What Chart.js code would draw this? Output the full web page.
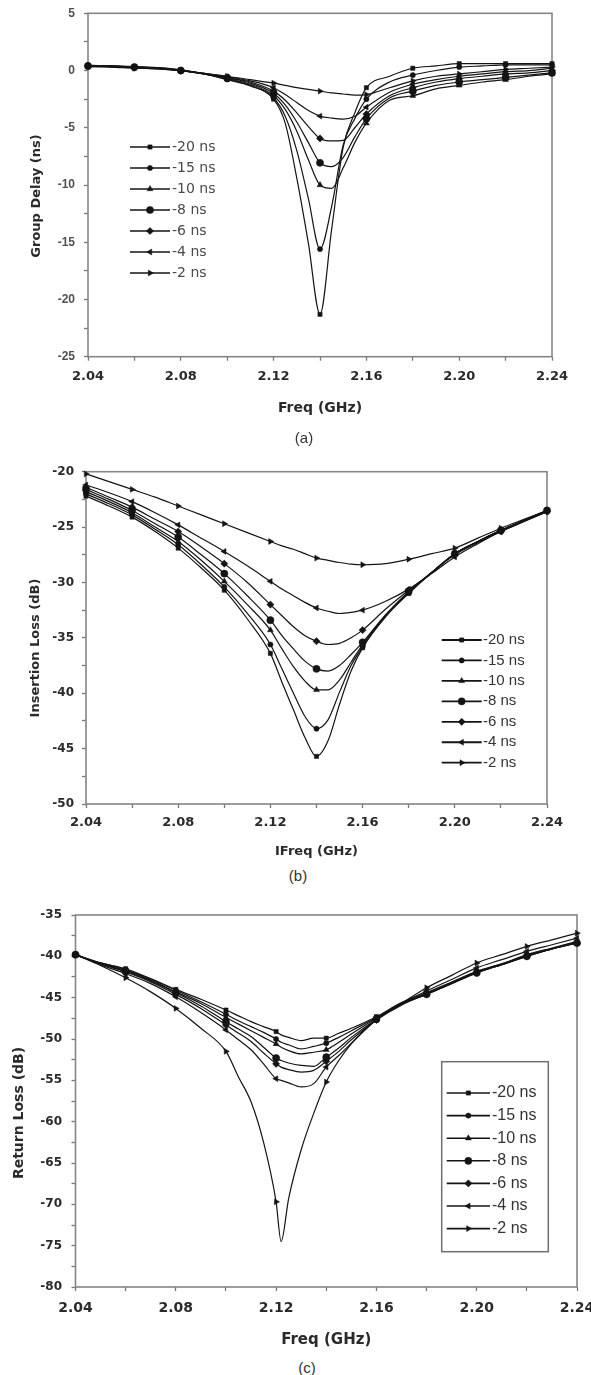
<!DOCTYPE html>
<html lang="en">
<head>
<meta charset="UTF-8">
<title>Group delay / insertion loss / return loss</title>
<script src="https://cdn.jsdelivr.net/npm/chart.js@4.4.0/dist/chart.umd.min.js"></script>
<style>
  body { margin: 0; background: #fff; }
  #page { position: relative; width: 591px; height: 1375px; overflow: hidden; background: #fff; }
  .panel { position: absolute; left: 0; }
  .tag { position: absolute; font-family: "Liberation Sans", Arial, sans-serif; font-size: 15px; color: #333;
         transform: translate(-50%, -50%); }
</style>
</head>
<body>
<div id="page">
  <canvas class="panel" id="chartA" width="591" height="420" style="top:0"></canvas>
  <canvas class="panel" id="chartB" width="591" height="425" style="top:440px"></canvas>
  <canvas class="panel" id="chartC" width="591" height="465" style="top:890px"></canvas>
  <div class="tag" style="left:304px;top:437px">(a)</div>
  <div class="tag" style="left:298px;top:875px">(b)</div>
  <div class="tag" style="left:307px;top:1367px">(c)</div>
</div>

<script>
// ---- data ----
const seriesLabels = ['-20 ns', '-15 ns', '-10 ns', '-8 ns', '-6 ns', '-4 ns', '-2 ns'];

// frequency grid (GHz) for panels (a) and (b)
const freqFine = [2.04, 2.05, 2.06, 2.07, 2.08, 2.09, 2.10, 2.11, 2.12, 2.125, 2.13, 2.135, 2.14,
                  2.145, 2.15, 2.155, 2.16, 2.17, 2.18, 2.19, 2.20, 2.21, 2.22, 2.23, 2.24];

// (a) group delay, ns
const delay20 = [0.45, 0.4, 0.35, 0.25, 0.05, -0.3, -0.8, -1.35, -2.5, -4.6, -9.4, -15.1, -21.3, -13.9, -6.7, -3.7, -1.5, -0.5, 0.2, 0.4, 0.6, 0.6, 0.6, 0.6, 0.6];
const delay15 = [0.45, 0.4, 0.3, 0.25, 0.05, -0.3, -0.75, -1.3, -2.4, -4.0, -7.0, -11.2, -15.6, -11.9, -6.5, -4.2, -2.5, -1.0, -0.4, 0.0, 0.3, 0.4, 0.5, 0.5, 0.5];
const delay10 = [0.4, 0.4, 0.3, 0.2, 0.0, -0.3, -0.7, -1.2, -2.2, -3.4, -5.3, -7.8, -10.0, -10.3, -8.5, -6.3, -4.6, -2.6, -2.2, -1.6, -1.3, -1.0, -0.8, -0.5, -0.3];
const delay8  = [0.4, 0.35, 0.3, 0.2, 0.0, -0.3, -0.65, -1.1, -2.0, -3.0, -4.5, -6.3, -8.06, -8.4, -7.6, -5.8, -4.2, -2.4, -1.8, -1.3, -1.0, -0.8, -0.6, -0.4, -0.2];
const delay6  = [0.4, 0.35, 0.25, 0.2, 0.0, -0.25, -0.6, -1.0, -1.8, -2.6, -3.7, -4.9, -5.93, -6.15, -6.1, -5.0, -3.8, -2.2, -1.5, -1.0, -0.7, -0.5, -0.3, -0.2, 0.0];
const delay4  = [0.35, 0.35, 0.25, 0.15, 0.0, -0.25, -0.55, -0.9, -1.5, -2.1, -2.8, -3.5, -3.98, -4.15, -4.24, -4.0, -3.2, -1.9, -1.2, -0.8, -0.5, -0.3, -0.1, 0.0, 0.2];
const delay2  = [0.35, 0.3, 0.2, 0.15, 0.0, -0.25, -0.5, -0.8, -1.1, -1.3, -1.5, -1.65, -1.8, -1.95, -2.05, -2.15, -2.1, -1.5, -0.9, -0.5, -0.3, -0.1, 0.1, 0.2, 0.3];

// (b) insertion loss, dB
const loss20 = [-22.2, -23.1, -24.1, -25.4, -26.9, -28.7, -30.7, -33.3, -36.4, -39.0, -41.5, -44.0, -45.7, -44.3, -41.0, -38.0, -35.9, -33.1, -31.0, -29.1, -27.4, -26.3, -25.3, -24.4, -23.5];
const loss15 = [-22.0, -22.9, -23.9, -25.2, -26.6, -28.4, -30.4, -32.8, -35.6, -37.8, -40.0, -42.1, -43.2, -42.4, -39.9, -37.5, -35.8, -33.0, -30.9, -29.1, -27.4, -26.3, -25.3, -24.4, -23.5];
const loss10 = [-21.8, -22.7, -23.7, -25.0, -26.3, -28.0, -29.9, -32.0, -34.3, -36.0, -37.6, -38.9, -39.7, -39.7, -38.8, -37.2, -35.6, -33.0, -30.9, -29.1, -27.4, -26.3, -25.3, -24.4, -23.5];
const loss8  = [-21.6, -22.5, -23.5, -24.7, -25.9, -27.5, -29.2, -31.2, -33.4, -34.8, -36.0, -37.1, -37.8, -38.0, -37.5, -36.5, -35.4, -32.9, -30.8, -29.1, -27.4, -26.3, -25.3, -24.4, -23.5];
const loss6  = [-21.4, -22.3, -23.2, -24.3, -25.4, -26.8, -28.3, -30.0, -32.0, -33.0, -34.0, -34.8, -35.3, -35.6, -35.5, -35.0, -34.3, -32.4, -30.7, -29.1, -27.5, -26.4, -25.4, -24.5, -23.6];
const loss4  = [-21.2, -21.9, -22.7, -23.7, -24.8, -26.0, -27.2, -28.5, -29.9, -30.6, -31.2, -31.8, -32.3, -32.6, -32.8, -32.7, -32.5, -31.7, -30.6, -29.2, -27.7, -26.5, -25.4, -24.5, -23.6];
const loss2  = [-20.2, -20.9, -21.6, -22.3, -23.1, -23.9, -24.7, -25.5, -26.3, -26.7, -27.0, -27.4, -27.8, -28.0, -28.2, -28.35, -28.4, -28.3, -27.9, -27.4, -26.9, -26.0, -25.1, -24.3, -23.5];

// (c) return loss, dB
const freqC = [2.04, 2.05, 2.06, 2.07, 2.08, 2.09, 2.10, 2.105, 2.11, 2.115, 2.12, 2.122, 2.125, 2.13,
               2.135, 2.14, 2.145, 2.15, 2.16, 2.17, 2.18, 2.19, 2.20, 2.21, 2.22, 2.23, 2.24];
const ret20 = [-39.8, -40.8, -41.5, -42.7, -44.0, -45.2, -46.5, -47.2, -47.9, -48.5, -49.1, -49.5, -49.8, -50.2, -49.9, -49.9, -49.3, -48.7, -47.3, -45.6, -44.4, -43.1, -41.8, -40.9, -39.8, -39.0, -38.2];
const ret15 = [-39.8, -40.8, -41.6, -42.8, -44.1, -45.5, -47.0, -47.8, -48.5, -49.2, -50.0, -50.4, -50.7, -51.2, -50.9, -50.5, -49.8, -49.0, -47.4, -45.7, -44.5, -43.2, -41.9, -40.9, -39.9, -39.1, -38.3];
const ret10 = [-39.8, -40.9, -41.7, -42.9, -44.3, -45.7, -47.4, -48.2, -49.0, -49.8, -50.6, -51.0, -51.4, -51.8, -51.6, -51.3, -50.4, -49.4, -47.5, -45.8, -44.5, -43.2, -41.9, -41.0, -39.9, -39.1, -38.3];
const ret8  = [-39.8, -40.9, -41.8, -43.0, -44.4, -46.0, -47.9, -48.8, -49.7, -51.0, -52.3, -52.6, -52.9, -53.2, -53.3, -52.2, -51.1, -49.8, -47.6, -45.8, -44.6, -43.3, -42.0, -41.0, -40.0, -39.1, -38.4];
const ret6  = [-39.8, -40.9, -41.9, -43.1, -44.6, -46.3, -48.3, -49.3, -50.3, -51.7, -53.0, -53.4, -53.7, -54.0, -53.8, -52.7, -51.5, -50.1, -47.7, -45.9, -44.6, -43.3, -42.0, -41.0, -40.0, -39.1, -38.4];
const ret4  = [-39.8, -41.0, -42.1, -43.3, -44.9, -46.8, -48.9, -50.1, -51.3, -53.0, -54.8, -55.0, -55.3, -55.8, -55.4, -53.4, -52.0, -50.5, -47.7, -45.7, -44.2, -42.8, -41.4, -40.4, -39.4, -38.6, -37.8];
const ret2  = [-39.8, -41.1, -42.6, -44.3, -46.3, -48.7, -51.5, -54.6, -57.6, -62.5, -69.7, -74.5, -69.3, -63.4, -59.0, -55.2, -52.6, -50.6, -47.6, -45.7, -43.8, -42.3, -40.8, -39.8, -38.8, -38.0, -37.2];

// ---- styling ----
const markerStyles = ['rect', 'circle', 'triangle', 'circle', 'rectRot', 'triangle', 'triangle'];
const markerTurn   = [0, 0, 0, 0, 0, -90, 90];
const markerSize   = [3, 2.6, 3.4, 3.6, 3.6, 3.4, 3.4];

function onGrid(f) {
  return Math.round(f * 1000) % 20 === 0;
}

function makeSets(freq, series) {
  return series.map(function (vals, i) {
    return {
      label: seriesLabels[i],
      data: vals.map(function (v, k) { return {x: freq[k], y: v}; }),
      borderColor: '#141414',
      backgroundColor: '#141414',
      borderWidth: 1.2,
      pointStyle: markerStyles[i],
      pointRotation: markerTurn[i],
      pointRadius: function (ctx) { return onGrid(freq[ctx.dataIndex]) ? markerSize[i] : 0; },
      pointBorderWidth: 0.5,
      cubicInterpolationMode: 'monotone',
      clip: false
    };
  });
}

// box round the plot area + the rotated y title
const frame = {
  id: 'frame',
  beforeDatasetsDraw(chart, args, o) {
    const a = chart.chartArea;
    const ctx = chart.ctx;
    ctx.save();
    ctx.strokeStyle = '#858585';
    ctx.lineWidth = 1.6;
    ctx.strokeRect(a.left, a.top, a.right - a.left, a.bottom - a.top);
    ctx.translate(o.titleX, o.titleY);
    ctx.rotate(-Math.PI / 2);
    ctx.fillStyle = '#2a2a2a';
    ctx.font = o.titleFont;
    ctx.textAlign = 'center';
    ctx.textBaseline = 'middle';
    ctx.fillText(o.title, 0, 0);
    ctx.restore();
  }
};

// legend drawn inside the plot
const inlineLegend = {
  id: 'inlineLegend',
  afterDraw(chart, args, o) {
    const ctx = chart.ctx;
    ctx.save();
    if (o.box) {
      ctx.strokeStyle = '#707070';
      ctx.lineWidth = 1.5;
      ctx.strokeRect(o.box[0], o.box[1], o.box[2], o.box[3]);
    }
    chart.data.datasets.forEach(function (ds, i) {
      const y = o.top + i * o.gap;
      ctx.strokeStyle = '#141414';
      ctx.fillStyle = '#141414';
      ctx.lineWidth = o.lineWidth;
      ctx.beginPath();
      ctx.moveTo(o.x1, y);
      ctx.lineTo(o.x2, y);
      ctx.stroke();
      ctx.lineWidth = 0.5;
      Chart.helpers.drawPoint(ctx, {
        pointStyle: ds.pointStyle, rotation: ds.pointRotation, radius: markerSize[i], borderWidth: 0.5
      }, (o.x1 + o.x2) / 2, y);
      ctx.fillStyle = o.color;
      ctx.font = o.font;
      ctx.textAlign = 'left';
      ctx.textBaseline = 'middle';
      ctx.fillText(ds.label, o.textX, y);
    });
    ctx.restore();
  }
};

function xAxis(o) {
  return {
    type: 'linear', min: 2.04, max: 2.24,
    border: {display: false},
    grid: {drawOnChartArea: false, drawTicks: true, tickLength: 4, tickColor: '#777', tickWidth: 1.3},
    ticks: {
      stepSize: 0.02, maxTicksLimit: 100, autoSkip: false, maxRotation: 0,
      padding: o.tickPad, color: '#2a2a2a',
      font: {family: 'DejaVu Sans', weight: 'bold', size: o.tickSize},
      callback: function (v, i) { return i % 2 === 0 ? v.toFixed(2) : ''; }
    },
    title: {
      display: true, text: o.title, color: '#2a2a2a',
      font: {family: 'DejaVu Sans', weight: 'bold', size: o.titleSize},
      padding: {top: 0, bottom: o.titlePad}
    },
    afterFit: function (s) { s.height = o.height; s.paddingLeft = 0; s.paddingRight = 0; }
  };
}

function yAxis(o) {
  return {
    type: 'linear', min: o.min, max: o.max,
    border: {display: false},
    grid: {drawOnChartArea: false, drawTicks: true, tickLength: 4, tickColor: '#777', tickWidth: 1.3},
    ticks: {
      stepSize: 2.5, maxTicksLimit: 100, autoSkip: false,
      padding: o.tickPad, color: o.tickColor,
      font: {family: o.tickFamily, weight: 'bold', size: o.tickSize},
      callback: function (v) { return Math.abs(v % 5) < 1e-6 ? String(v) : ''; }
    },
    afterFit: function (s) { s.width = o.width; s.paddingTop = 0; s.paddingBottom = 0; }
  };
}

function drawPanel(id, freq, series, opts) {
  new Chart(document.getElementById(id), {
    type: 'line',
    data: {datasets: makeSets(freq, series)},
    options: {
      responsive: false,
      animation: false,
      events: [],
      layout: {padding: opts.padding},
      plugins: {legend: {display: false}, tooltip: {enabled: false}, inlineLegend: opts.legend, frame: opts.yTitle},
      scales: {x: opts.x, y: opts.y}
    },
    plugins: [frame, inlineLegend]
  });
}

// (a) group delay
drawPanel('chartA', freqFine, [delay20, delay15, delay10, delay8, delay6, delay4, delay2], {
  padding: {top: 13.3, right: 39, bottom: 0, left: 0},
  x: xAxis({height: 63.3, tickPad: 8, tickSize: 13, title: 'Freq (GHz)', titleSize: 14, titlePad: 3.6}),
  y: yAxis({min: -25, max: 5, width: 88, tickPad: 9, tickSize: 12, tickFamily: 'Liberation Sans', tickColor: '#505050'}),
  yTitle: {title: 'Group Delay (ns)', titleX: 37, titleY: 196, titleFont: 'bold 13px "DejaVu Sans"'},
  legend: {x1: 130, x2: 170, textX: 172, top: 147, gap: 21, lineWidth: 1.6,
           font: '14px "DejaVu Sans"', color: '#4a4a4a'}
});

// (b) insertion loss
drawPanel('chartB', freqFine, [loss20, loss15, loss10, loss8, loss6, loss4, loss2], {
  padding: {top: 31.7, right: 44, bottom: 0, left: 0},
  x: xAxis({height: 61, tickPad: 7.2, tickSize: 13, title: 'IFreq (GHz)', titleSize: 13, titlePad: 5.2}),
  y: yAxis({min: -50, max: -20, width: 86, tickPad: 8, tickSize: 12, tickFamily: 'DejaVu Sans', tickColor: '#2a2a2a'}),
  yTitle: {title: 'Insertion Loss (dB)', titleX: 36, titleY: 208, titleFont: 'bold 13px "DejaVu Sans"'},
  legend: {x1: 441.7, x2: 481.7, textX: 483, top: 200, gap: 20.45, lineWidth: 1.8,
           font: '15px "Liberation Sans"', color: '#333'}
});

// (c) return loss
drawPanel('chartC', freqC, [ret20, ret15, ret10, ret8, ret6, ret4, ret2], {
  padding: {top: 25, right: 14, bottom: 0, left: 0},
  x: xAxis({height: 68, tickPad: 8.6, tickSize: 14, title: 'Freq (GHz)', titleSize: 15, titlePad: 6}),
  y: yAxis({min: -80, max: -35, width: 75.5, tickPad: 9.5, tickSize: 12, tickFamily: 'DejaVu Sans', tickColor: '#2a2a2a'}),
  yTitle: {title: 'Return Loss (dB)', titleX: 19, titleY: 223, titleFont: 'bold 14px "DejaVu Sans"'},
  legend: {x1: 446.7, x2: 490, textX: 492, top: 203, gap: 22.6, lineWidth: 1.6,
           font: '16px "Liberation Sans"', color: '#333', box: [441.7, 171.7, 106.6, 190]}
});
</script>
</body>
</html>
